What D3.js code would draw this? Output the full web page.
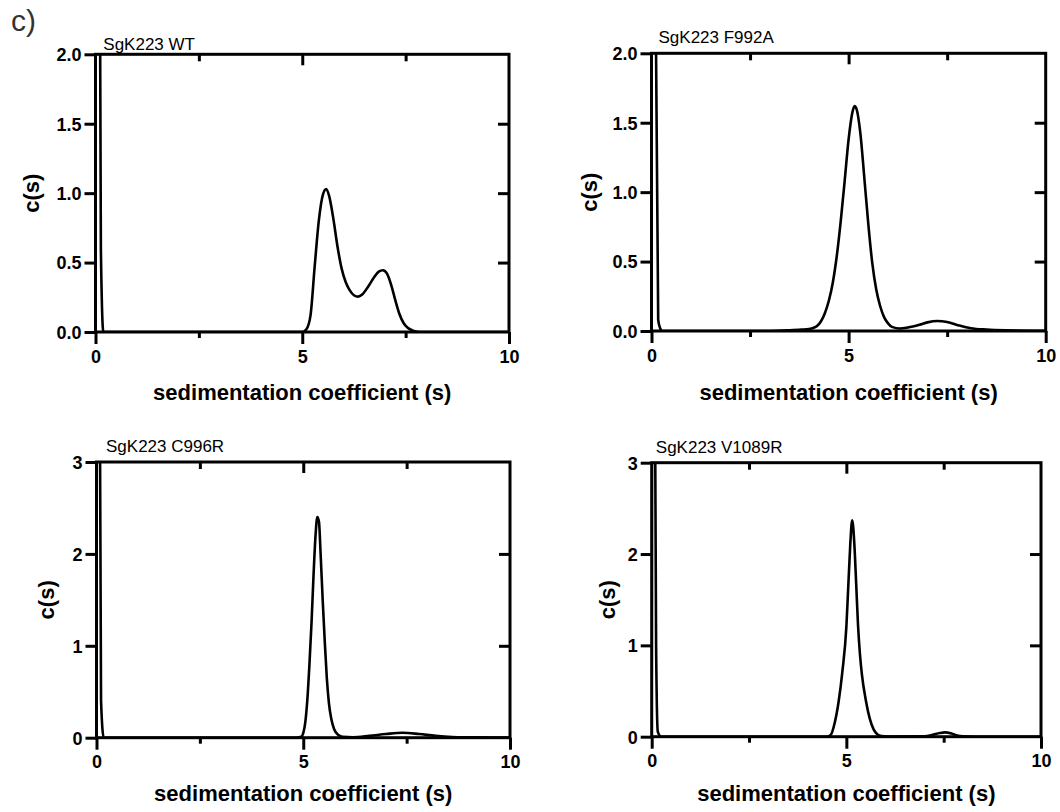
<!DOCTYPE html>
<html>
<head>
<meta charset="utf-8">
<script src="https://cdn.jsdelivr.net/npm/d3@7"></script>
<style>
  html, body { margin: 0; padding: 0; background: #fff; }
  svg { display: block; }
  text { font-family: "Liberation Sans", Arial, Helvetica, sans-serif; fill: #000; }
</style>
</head>
<body>
<svg id="chart" width="1060" height="812"></svg>
<script>
// Sample names, one per panel
const titles = ["SgK223 WT", "SgK223 F992A", "SgK223 C996R", "SgK223 V1089R"];

// Axis ticks
const xTicksMajor = [0, 5, 10];
const xTicksMinor = [2.5, 7.5];
const yTicksTop = [0, 0.5, 1.0, 1.5, 2.0];
const yTicksBottom = [0, 1, 2, 3];

// c(s) distributions: sedimentation coefficient (S) and c(s)
const wtS = [0, 0.05, 0.11, 0.13, 0.19, 4.9, 5.0, 5.1, 5.2, 5.3, 5.4, 5.5, 5.58, 5.65, 5.75, 5.85, 5.95, 6.05, 6.15, 6.25, 6.35, 6.45, 6.6, 6.75, 6.85, 6.95, 7.05, 7.15, 7.25, 7.35, 7.45, 7.55, 7.7, 7.85, 10];
const wtC = [0, 12, 2.4, 0.6, 0, 0, 0, 0.02, 0.12, 0.47, 0.8, 0.99, 1.03, 0.98, 0.82, 0.62, 0.46, 0.36, 0.30, 0.265, 0.255, 0.27, 0.33, 0.40, 0.435, 0.445, 0.42, 0.34, 0.23, 0.13, 0.065, 0.03, 0.008, 0, 0];

const f992aS = [0, 0.05, 0.11, 0.17, 0.22, 0.27, 3.0, 3.5, 3.8, 4.0, 4.1, 4.2, 4.3, 4.4, 4.5, 4.6, 4.7, 4.8, 4.9, 5.0, 5.1, 5.15, 5.2, 5.3, 5.4, 5.5, 5.6, 5.7, 5.8, 5.9, 6.0, 6.1, 6.3, 6.5, 6.8, 7.0, 7.25, 7.5, 7.8, 8.1, 8.5, 9.0, 10];
const f992aC = [0, 12, 2.2, 0.08, 0.02, 0, 0, 0.005, 0.01, 0.015, 0.022, 0.036, 0.07, 0.13, 0.22, 0.35, 0.54, 0.79, 1.08, 1.38, 1.58, 1.62, 1.6, 1.42, 1.1, 0.77, 0.49, 0.3, 0.18, 0.1, 0.055, 0.03, 0.018, 0.025, 0.045, 0.062, 0.072, 0.065, 0.04, 0.02, 0.01, 0.005, 0.002];

const c996rS = [0, 0.04, 0.085, 0.11, 0.175, 4.8, 4.95, 5.0, 5.05, 5.1, 5.15, 5.2, 5.25, 5.3, 5.34, 5.38, 5.42, 5.47, 5.52, 5.57, 5.62, 5.68, 5.75, 5.85, 5.95, 6.2, 6.6, 7.0, 7.4, 7.8, 8.2, 8.6, 9.2, 10];
const c996rC = [0, 15, 3.2, 0.4, 0, 0, 0.01, 0.05, 0.17, 0.42, 0.8, 1.25, 1.78, 2.22, 2.4, 2.35, 2.0, 1.5, 1.05, 0.65, 0.38, 0.2, 0.09, 0.03, 0.01, 0.005, 0.02, 0.04, 0.054, 0.04, 0.02, 0.008, 0.003, 0.002];

const v1089rS = [0, 0.04, 0.09, 0.113, 0.156, 0.24, 4.5, 4.6, 4.7, 4.8, 4.9, 5.0, 5.05, 5.1, 5.15, 5.2, 5.25, 5.3, 5.35, 5.4, 5.5, 5.6, 5.7, 5.8, 5.9, 6.2, 7.0, 7.2, 7.4, 7.53, 7.7, 7.85, 8.0, 8.3, 10];
const v1089rC = [0, 15, 3.2, 1.0, 0.055, 0, 0, 0.02, 0.15, 0.38, 0.72, 1.2, 1.65, 2.1, 2.37, 2.15, 1.7, 1.22, 0.9, 0.68, 0.4, 0.2, 0.08, 0.025, 0.008, 0.002, 0.005, 0.018, 0.04, 0.047, 0.035, 0.012, 0.004, 0, 0];

const FONT = '"Liberation Sans", Arial, Helvetica, sans-serif';
const svg = d3.select("#chart");

// Panel letter
svg.append("text")
  .attr("x", 11).attr("y", 31)
  .style("font-size", "30px")
  .style("fill", "#333")
  .text("c)");

const panels = [
  { title: titles[0], s: wtS, c: wtC, yMax: 2, yTicks: yTicksTop, fmt: ".1f",
    left: 95.5, right: 509, top: 54.3, bottom: 332, titleX: 103.3, titleY: 49.5, ylabX: 38.7, xlabY: 400 },
  { title: titles[1], s: f992aS, c: f992aC, yMax: 2, yTicks: yTicksTop, fmt: ".1f",
    left: 651.5, right: 1045.7, top: 53.3, bottom: 331, titleX: 658.5, titleY: 42.5, ylabX: 596.5, xlabY: 400 },
  { title: titles[2], s: c996rS, c: c996rC, yMax: 3, yTicks: yTicksBottom, fmt: "d",
    left: 96.5, right: 510, top: 462, bottom: 737.7, titleX: 106, titleY: 452.3, ylabX: 54, xlabY: 801 },
  { title: titles[3], s: v1089rS, c: v1089rC, yMax: 3, yTicks: yTicksBottom, fmt: "d",
    left: 651.7, right: 1041, top: 462.7, bottom: 736.7, titleX: 655.8, titleY: 453.3, ylabX: 615, xlabY: 801 }
];

const AXIS_W = 3;
const LINE_W = 2.6;

panels.forEach((p, i) => {
  const x = d3.scaleLinear().domain([0, 10]).range([p.left, p.right]);
  const y = d3.scaleLinear().domain([0, p.yMax]).range([p.bottom, p.top]);
  const g = svg.append("g");

  // clip region = plot area
  const clipId = "clip" + i;
  svg.append("clipPath").attr("id", clipId)
    .append("rect")
    .attr("x", p.left).attr("y", p.top)
    .attr("width", p.right - p.left).attr("height", p.bottom - p.top);

  // distribution curve
  const pts = p.s.map((s, k) => [s, p.c[k]]);
  const line = d3.line()
    .x(d => x(d[0]))
    .y(d => y(d[1]))
    .curve(d3.curveMonotoneX);
  g.append("path")
    .datum(pts)
    .attr("clip-path", `url(#${clipId})`)
    .attr("d", line)
    .attr("fill", "none")
    .attr("stroke", "#000")
    .attr("stroke-width", LINE_W)
    .attr("stroke-linejoin", "round");

  // left axis (outward ticks, labels)
  const yAxis = d3.axisLeft(y)
    .tickValues(p.yTicks)
    .tickFormat(d3.format(p.fmt))
    .tickSize(11).tickSizeOuter(0).tickPadding(3);
  const ya = g.append("g").attr("transform", `translate(${p.left},0)`).call(yAxis);

  // bottom axis major (outward, labelled)
  const xAxis = d3.axisBottom(x)
    .tickValues(xTicksMajor)
    .tickFormat(d3.format("d"))
    .tickSize(12).tickSizeOuter(0).tickPadding(6);
  const xa = g.append("g").attr("transform", `translate(0,${p.bottom})`).call(xAxis);

  // bottom axis minor (outward, unlabelled)
  const xMinor = d3.axisBottom(x).tickValues(xTicksMinor).tickFormat("").tickSize(6).tickSizeOuter(0);
  const xm = g.append("g").attr("transform", `translate(0,${p.bottom})`).call(xMinor);

  // top mirror ticks (inward)
  const topMajor = d3.axisTop(x).tickValues([5]).tickFormat("").tickSize(-11).tickSizeOuter(0);
  const topMinor = d3.axisTop(x).tickValues(xTicksMinor).tickFormat("").tickSize(-7).tickSizeOuter(0);
  const tma = g.append("g").attr("transform", `translate(0,${p.top})`).call(topMajor);
  const tmi = g.append("g").attr("transform", `translate(0,${p.top})`).call(topMinor);

  // right mirror ticks (inward)
  const inner = p.yTicks.filter(v => v > 0 && v < p.yMax);
  const rightAxis = d3.axisRight(y).tickValues(inner).tickFormat("").tickSize(-11).tickSizeOuter(0);
  const ra = g.append("g").attr("transform", `translate(${p.right},0)`).call(rightAxis);

  [ya, xa, xm, tma, tmi, ra].forEach(a => {
    a.select(".domain").remove();
    a.selectAll(".tick line").attr("stroke", "#000").attr("stroke-width", AXIS_W);
    a.selectAll(".tick text")
      .style("font-family", FONT)
      .style("font-size", "18px")
      .style("font-weight", "bold")
      .attr("fill", "#000");
  });
  ya.selectAll(".tick text").attr("dy", "0.35em");
  xa.selectAll(".tick text").attr("dy", "0.71em");

  // frame
  g.append("rect")
    .attr("x", p.left).attr("y", p.top)
    .attr("width", p.right - p.left).attr("height", p.bottom - p.top)
    .attr("fill", "none")
    .attr("stroke", "#000")
    .attr("stroke-width", AXIS_W)
    .attr("stroke-linecap", "square");

  // panel title
  g.append("text")
    .attr("x", p.titleX).attr("y", p.titleY)
    .style("font-size", "17px")
    .text(p.title);

  // axis titles
  g.append("text")
    .attr("transform", `translate(${p.ylabX},${(p.top + p.bottom) / 2}) rotate(-90)`)
    .attr("text-anchor", "middle")
    .style("font-size", "22px")
    .style("font-weight", "bold")
    .text("c(s)");

  g.append("text")
    .attr("x", (p.left + p.right) / 2).attr("y", p.xlabY)
    .attr("text-anchor", "middle")
    .style("font-size", "22px")
    .style("font-weight", "bold")
    .text("sedimentation coefficient (s)");
});
</script>
</body>
</html>
